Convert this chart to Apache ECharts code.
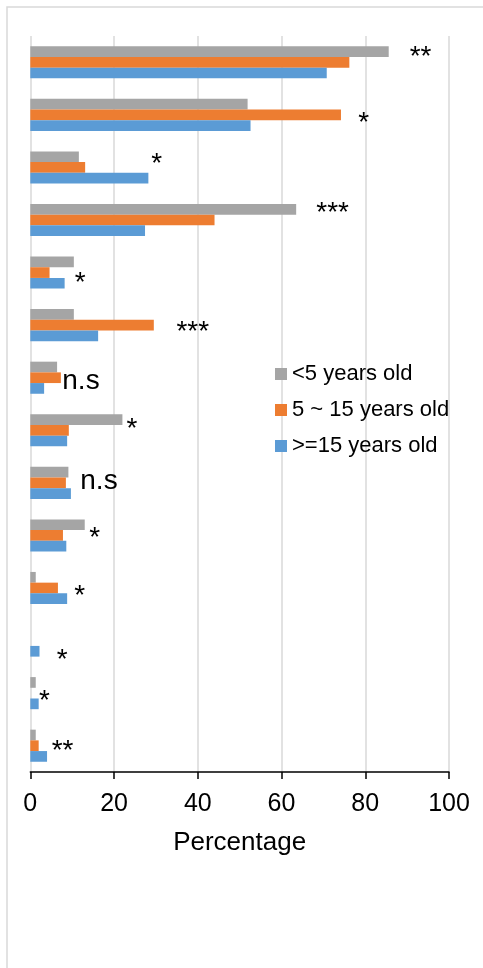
<!DOCTYPE html>
<html>
<head>
<meta charset="utf-8">
<script src="https://cdn.jsdelivr.net/npm/echarts@6/dist/echarts.min.js"></script>
<style>
  html, body { margin: 0; padding: 0; background: #fff; }
  #chart { width: 483px; height: 968px; }
</style>
</head>
<body>
<div id="chart"></div>
<script>
// Items, top to bottom (labels are not shown on the axis)
const categories = ['Item 1', 'Item 2', 'Item 3', 'Item 4', 'Item 5', 'Item 6', 'Item 7',
                    'Item 8', 'Item 9', 'Item 10', 'Item 11', 'Item 12', 'Item 13', 'Item 14'];

const seriesNames = ['<5 years old', '5 ~ 15 years old', '>=15 years old'];

// Percentages per age group
const under5   = [85.6, 51.9, 11.6, 63.5, 10.4, 10.4, 6.4, 22.0, 9.1, 13.0, 1.3, 0, 1.3, 1.3];
const from5to15 = [76.2, 74.2, 13.1, 44.0, 4.6, 29.5, 7.3, 9.2, 8.5, 7.8, 6.6, 0, 0, 2.0];
const over15   = [70.8, 52.6, 28.2, 27.4, 8.2, 16.2, 3.3, 8.8, 9.7, 8.6, 8.8, 2.2, 2.0, 4.0];

// Significance marks: text, x in percentage units, y in item rows (0 = top edge)
const annoText = ['**', '*', '*', '***', '*', '***', 'n.s', '*', 'n.s', '*', '*', '*', '*', '**'];
const annoX    = [93.2, 79.6, 30.2, 72.2, 11.9, 38.8, 12.1, 24.3, 16.4, 15.4, 11.8, 7.6, 3.4, 7.7];
const annoY    = [0.28, 1.52, 2.30, 3.23, 4.58, 5.50, 6.54, 7.34, 8.45, 9.43, 10.52, 11.74, 12.52, 13.47];

const xTicks = { min: 0, max: 100, interval: 20 };

const FONT = "'Liberation Sans', Arial, sans-serif";
const colors = ['#a5a5a5', '#ed7d31', '#5b9bd5'];
const values = [under5, from5to15, over15];

const chart = echarts.init(document.getElementById('chart'), null, { renderer: 'canvas' });

const barSeries = seriesNames.map((name, i) => ({
  name: name,
  type: 'bar',
  xAxisIndex: 0,
  yAxisIndex: 0,
  data: values[i],
  barWidth: 10.7,
  barGap: '0%',
  itemStyle: { color: colors[i] },
  emphasis: { disabled: true },
  animation: false
}));

const annoSeries = {
  type: 'scatter',
  xAxisIndex: 0,
  yAxisIndex: 1,
  symbolSize: 0,
  silent: true,
  animation: false,
  itemStyle: { opacity: 1, color: '#000' },
  data: annoText.map((t, i) => ({
    value: [annoX[i], annoY[i]],
    label: {
      show: true,
      position: 'inside',
      formatter: t,
      color: '#000',
      fontFamily: FONT,
      fontSize: 28,
      // asterisks sit high in the line box, so push them down to centre the glyph
      offset: t.indexOf('*') >= 0 ? [0, 7] : [0, 1]
    }
  })),
  label: {
    color: '#000',
    align: 'center',
    verticalAlign: 'middle'
  }
};

chart.setOption({
  backgroundColor: '#fff',
  animation: false,
  textStyle: { fontFamily: FONT },
  graphic: [{
    type: 'rect',
    shape: { x: 7, y: 7, width: 520, height: 1000 },
    style: { fill: 'none', stroke: '#d9d9d9', lineWidth: 1.5 },
    silent: true
  }],
  grid: { left: 30.3, right: 34, top: 36, bottom: 196, containLabel: false },
  legend: {
    orient: 'vertical',
    left: 270,
    top: 357,
    itemWidth: 12,
    itemHeight: 12,
    itemGap: 12,
    icon: 'rect',
    data: seriesNames,
    textStyle: { fontFamily: FONT, fontSize: 22, color: '#000', lineHeight: 24 }
  },
  xAxis: {
    type: 'value',
    position: 'bottom',
    min: xTicks.min,
    max: xTicks.max,
    interval: xTicks.interval,
    name: 'Percentage',
    nameLocation: 'middle',
    nameGap: 58,
    nameTextStyle: { fontFamily: FONT, fontSize: 26, color: '#000' },
    axisLine: { show: true, onZero: false, lineStyle: { color: '#000', width: 1.5 } },
    axisTick: { show: true, length: 7, inside: false, lineStyle: { color: '#000', width: 1.5 } },
    axisLabel: { fontFamily: FONT, fontSize: 25, color: '#000', margin: 20 },
    splitLine: { show: true, lineStyle: { color: '#d9d9d9', width: 1.5 } }
  },
  yAxis: [{
    type: 'category',
    data: categories,
    inverse: true,
    axisLine: { show: false },
    axisTick: { show: false },
    axisLabel: { show: false },
    splitLine: { show: false }
  }, {
    type: 'value',
    min: 0,
    max: categories.length,
    inverse: true,
    show: false
  }],
  series: barSeries.concat([annoSeries])
});
</script>
</body>
</html>
